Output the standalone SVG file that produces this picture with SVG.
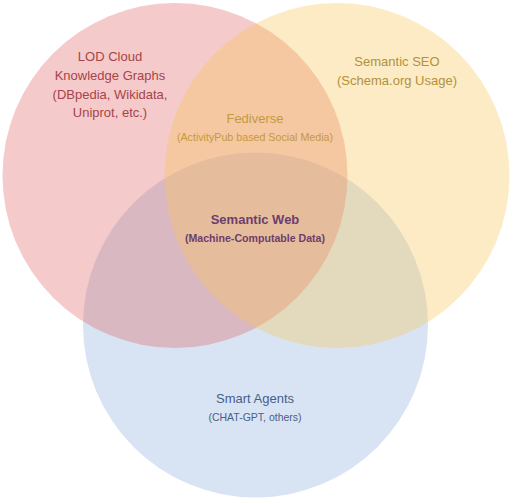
<svg xmlns="http://www.w3.org/2000/svg" width="511" height="500" viewBox="0 0 511 500">
<style>
text{font-family:"Liberation Sans",Arial,sans-serif;text-anchor:middle}
.c{fill-opacity:0.35;stroke:none}
.red{fill:#a8434a;font-size:13px}
.seo{fill:#b0923a;font-size:13px}
.fed{fill:#c39a3e}
.sw{fill:#6e3d6c;font-weight:bold}
.ag{fill:#4b5d88}
</style>
<rect width="511" height="500" fill="#ffffff"/>
<g id="smart-agents">
<circle class="c" cx="255.5" cy="325" r="172.5" fill="#90b2dd"/>
</g>
<g id="lod-cloud">
<circle class="c" cx="175" cy="175.5" r="172.5" fill="#e06666"/>
</g>
<g id="semantic-seo">
<circle class="c" cx="337" cy="175.5" r="172.5" fill="#f9c659"/>
</g>
<g id="lod-label">
<text class="red" x="110" y="61">LOD Cloud</text>
<text class="red" x="110" y="80">Knowledge Graphs</text>
<text class="red" x="110" y="98.5">(DBpedia, Wikidata,</text>
<text class="red" x="110" y="117">Uniprot, etc.)</text>
</g>
<g id="seo-label">
<text class="seo" x="397" y="66">Semantic SEO</text>
<text class="seo" x="397" y="84.5">(Schema.org Usage)</text>
</g>
<g id="fediverse">
<text class="fed" x="255" y="122.5" font-size="13">Fediverse</text>
<text class="fed" x="255" y="141" font-size="10.7">(ActivityPub based Social Media)</text>
</g>
<g id="semantic-web">
<text class="sw" x="255" y="223.5" font-size="13">Semantic Web</text>
<text class="sw" x="255" y="241.5" font-size="10.6">(Machine-Computable Data)</text>
</g>
<g id="agents-label">
<text class="ag" x="255" y="402.5" font-size="13">Smart Agents</text>
<text class="ag" x="255" y="420.5" font-size="10.5">(CHAT-GPT, others)</text>
</g>
<g id="connectors"/>
</svg>
